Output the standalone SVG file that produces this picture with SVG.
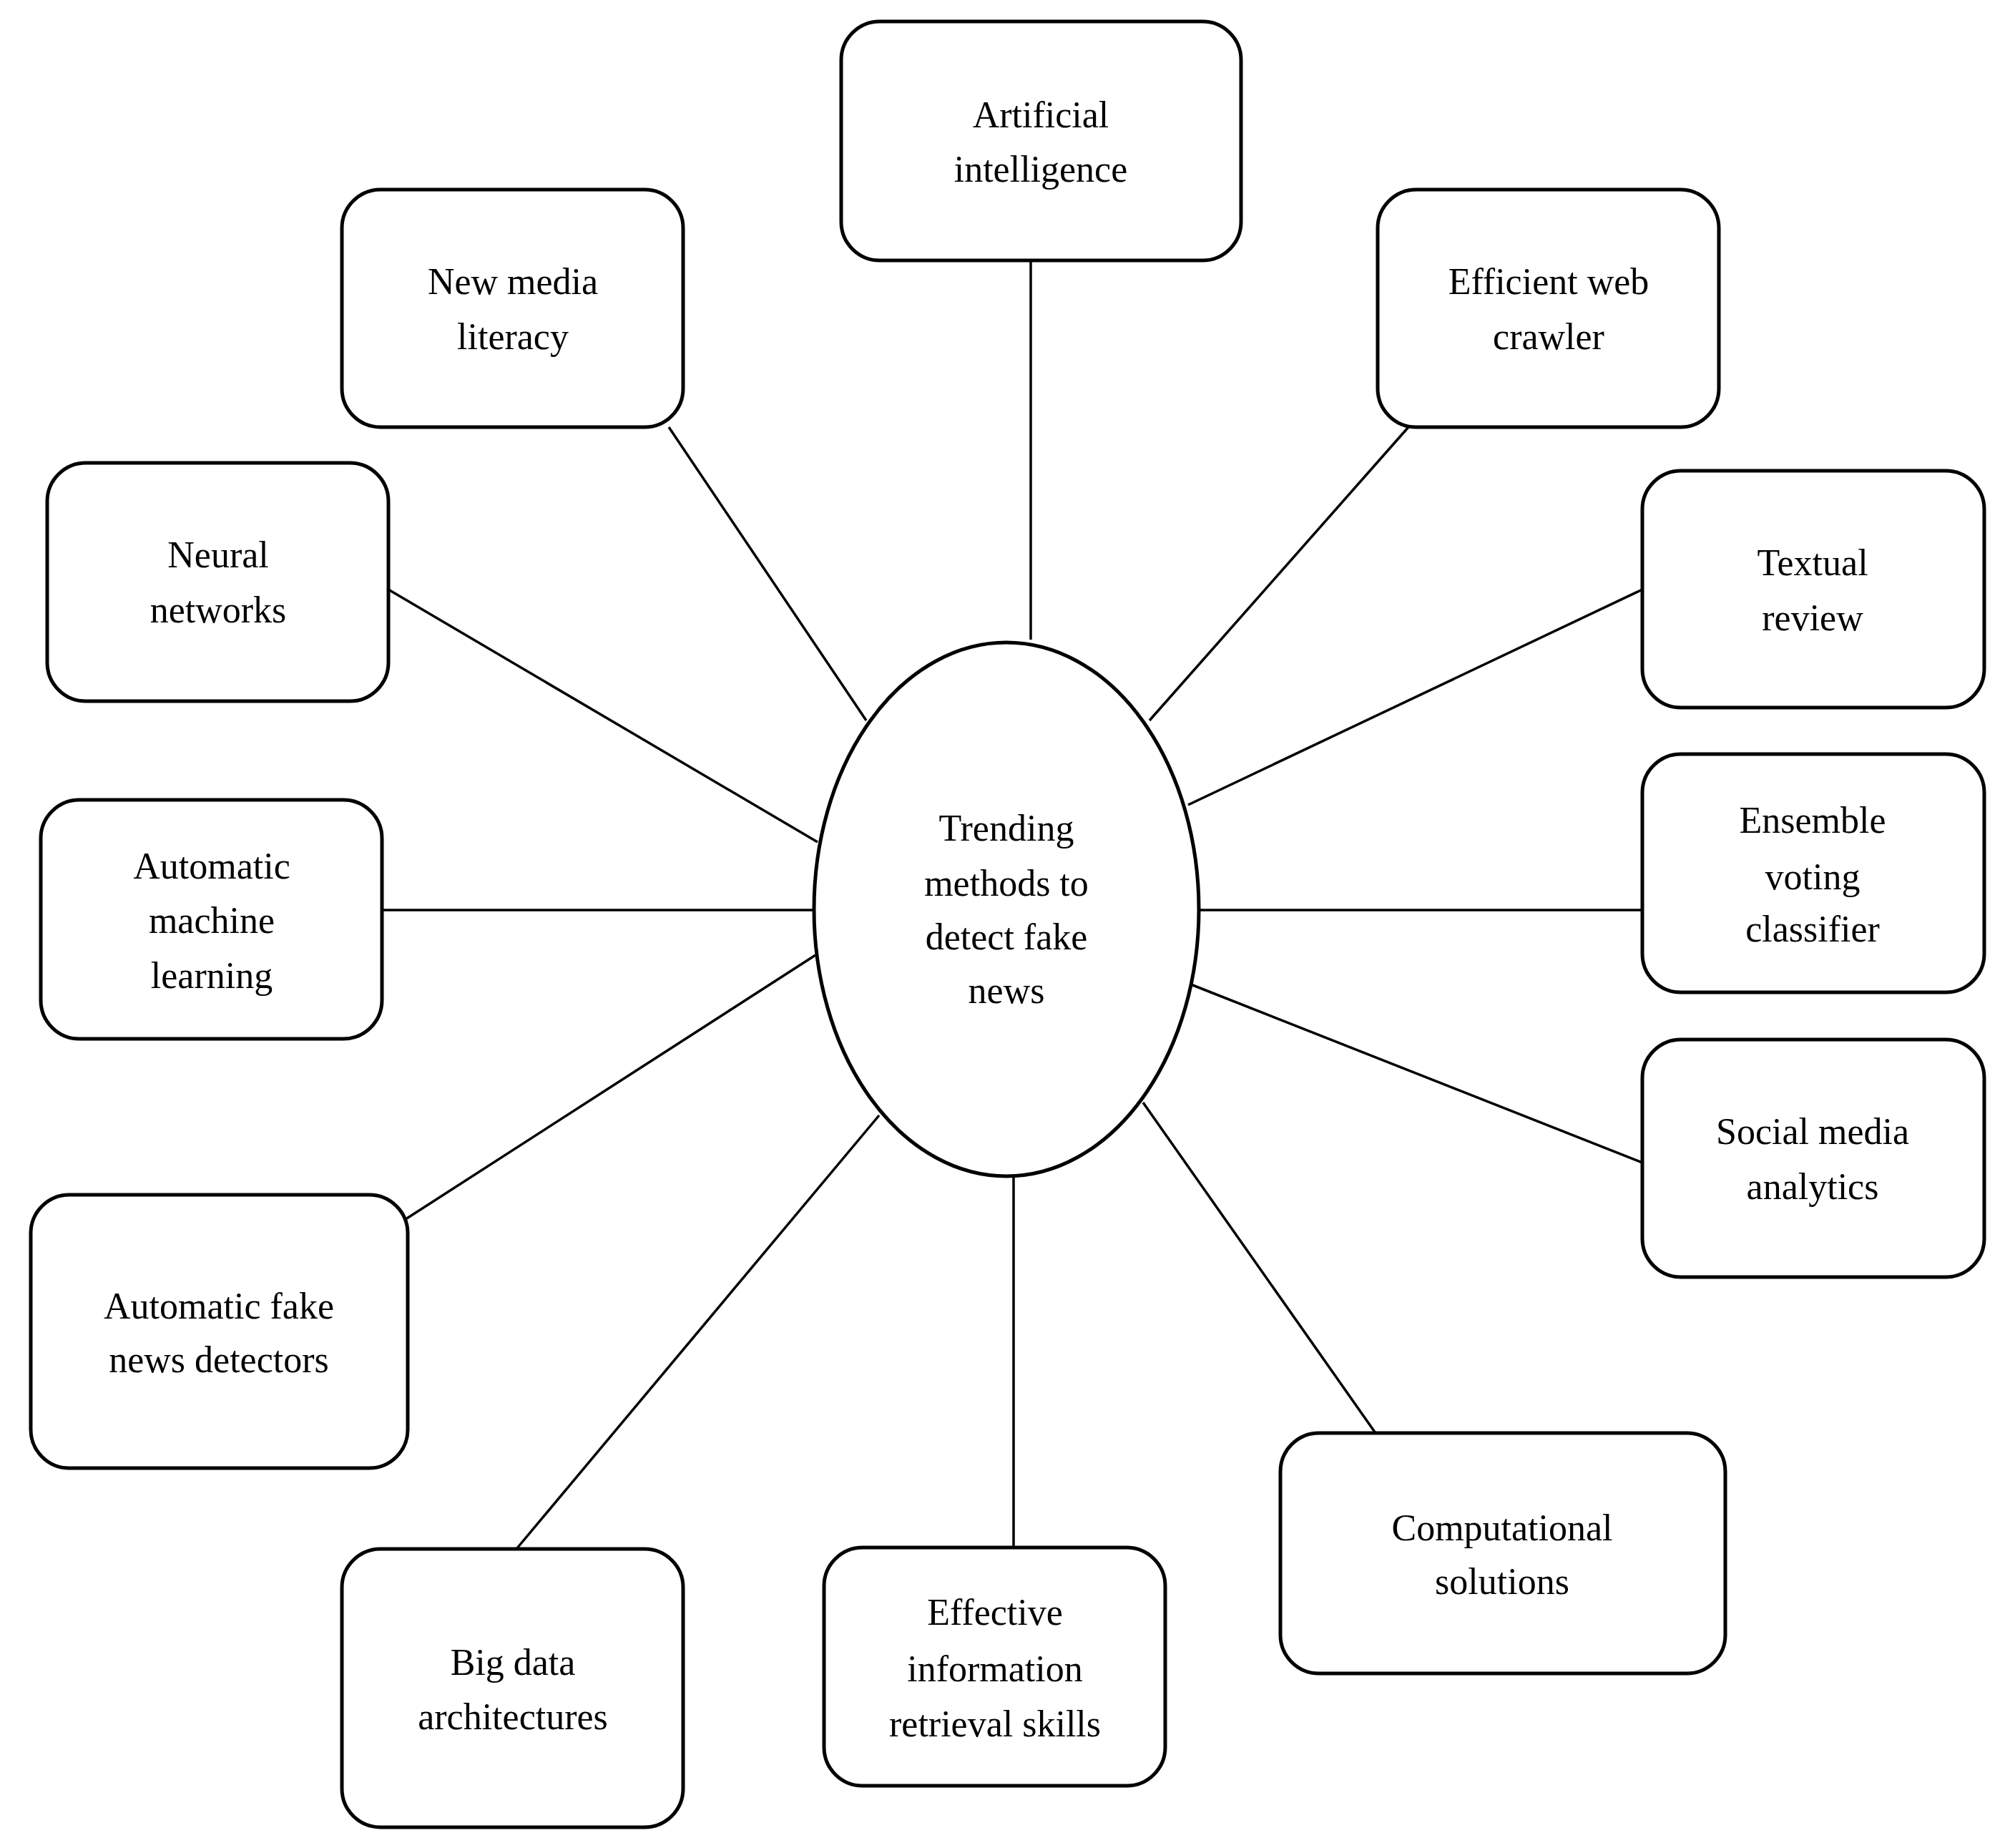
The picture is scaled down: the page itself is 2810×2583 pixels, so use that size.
<svg xmlns="http://www.w3.org/2000/svg" width="2810" height="2583" viewBox="0 0 2810 2583">
<style>
.b{fill:#fff;stroke:#000;stroke-width:5}
.c line{stroke:#000;stroke-width:3.5}
text{font-family:"Liberation Serif",serif;font-size:52px;text-anchor:middle;fill:#000}
</style>
<rect width="2810" height="2583" fill="#fff"/>
<g class="c" id="connectors">
<line x1="1441" y1="364" x2="1441" y2="894"/>
<line x1="935" y1="597" x2="1211" y2="1007"/>
<line x1="1969" y1="597" x2="1607" y2="1007"/>
<line x1="543" y1="824" x2="1143" y2="1177"/>
<line x1="2296" y1="824" x2="1661" y2="1125"/>
<line x1="534" y1="1272" x2="1140" y2="1272"/>
<line x1="1674" y1="1272" x2="2296" y2="1272"/>
<line x1="1665" y1="1376" x2="2296" y2="1625"/>
<line x1="547" y1="1717" x2="1140" y2="1335"/>
<line x1="1598" y1="1541" x2="1923" y2="2003"/>
<line x1="722" y1="2165" x2="1229" y2="1559"/>
<line x1="1417" y1="1641" x2="1417" y2="2163"/>
</g>
<g id="center"><ellipse class="b" cx="1407" cy="1271" rx="269" ry="373"/>
<text x="1407" y="1175">Trending</text><text x="1407" y="1252">methods to</text><text x="1407" y="1327">detect fake</text><text x="1407" y="1402">news</text></g>
<g id="ai"><rect class="b" x="1176" y="30" width="559" height="334" rx="54"/><text x="1455" y="178">Artificial</text><text x="1455" y="254">intelligence</text></g>
<g id="nml"><rect class="b" x="478" y="265" width="477" height="332" rx="54"/><text x="717" y="411">New media</text><text x="717" y="488">literacy</text></g>
<g id="ewc"><rect class="b" x="1926" y="265" width="477" height="332" rx="54"/><text x="2165" y="411">Efficient web</text><text x="2165" y="488">crawler</text></g>
<g id="nn"><rect class="b" x="66" y="647" width="477" height="333" rx="54"/><text x="305" y="793">Neural</text><text x="305" y="870">networks</text></g>
<g id="tr"><rect class="b" x="2296" y="658" width="478" height="331" rx="54"/><text x="2534" y="804">Textual</text><text x="2534" y="881">review</text></g>
<g id="aml"><rect class="b" x="57" y="1118" width="477" height="334" rx="54"/><text x="296" y="1228">Automatic</text><text x="296" y="1304">machine</text><text x="296" y="1381">learning</text></g>
<g id="evc"><rect class="b" x="2296" y="1054" width="478" height="333" rx="54"/><text x="2534" y="1164">Ensemble</text><text x="2534" y="1243">voting</text><text x="2534" y="1316">classifier</text></g>
<g id="sma"><rect class="b" x="2296" y="1453" width="478" height="332" rx="54"/><text x="2534" y="1599">Social media</text><text x="2534" y="1676">analytics</text></g>
<g id="afnd"><rect class="b" x="43" y="1670" width="527" height="382" rx="54"/><text x="306" y="1843">Automatic fake</text><text x="306" y="1918">news detectors</text></g>
<g id="cs"><rect class="b" x="1790" y="2003" width="622" height="336" rx="54"/><text x="2100" y="2153">Computational</text><text x="2100" y="2228">solutions</text></g>
<g id="bda"><rect class="b" x="478" y="2165" width="477" height="389" rx="54"/><text x="717" y="2341">Big data</text><text x="717" y="2417">architectures</text></g>
<g id="eirs"><rect class="b" x="1152" y="2163" width="477" height="333" rx="54"/><text x="1391" y="2271">Effective</text><text x="1391" y="2350">information</text><text x="1391" y="2427">retrieval skills</text></g>
</svg>
